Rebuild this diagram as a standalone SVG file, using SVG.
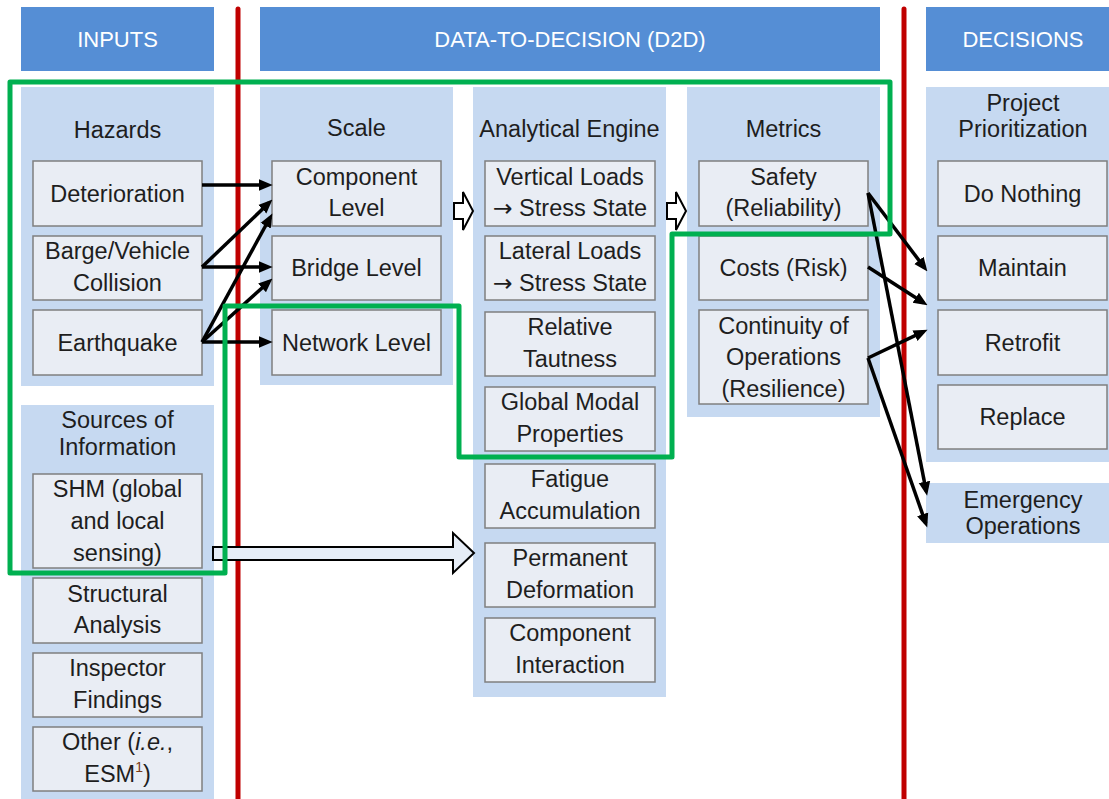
<svg xmlns="http://www.w3.org/2000/svg" width="1109" height="799" viewBox="0 0 1109 799">
  <defs>
    <style>
      .hdr { fill: #558ED5; }
      .hdr-t { font-family: "Liberation Sans", Arial, sans-serif; font-size: 22px; fill: #ffffff; text-anchor: middle; }
      .panel { fill: #C6D9F1; }
      .box { fill: #E9EDF4; stroke: #7F7F7F; stroke-width: 1.5; }
      .t { font-family: "Liberation Sans", Arial, sans-serif; font-size: 23.5px; fill: #1E1E1E; text-anchor: middle; }
      .sym { font-family: "DejaVu Sans", sans-serif; }
      .divider { stroke: #C00000; stroke-width: 5; stroke-linecap: round; }
      .link { stroke: #000000; stroke-width: 3.5; fill: none; marker-end: url(#head); }
      .block { fill: #FFFFFF; stroke: #000000; stroke-width: 2; stroke-linejoin: miter; }
      .scope { fill: none; stroke: #00B050; stroke-width: 5; stroke-linejoin: round; }
    </style>
    <marker id="head" markerUnits="userSpaceOnUse" markerWidth="14" markerHeight="14" viewBox="0 0 12 12" refX="8" refY="6" orient="auto">
      <path d="M0,1 L12,6 L0,11 Z" fill="#000000"/>
    </marker>
  </defs>

  <rect width="1109" height="799" fill="#FFFFFF"/>

  <!-- column headers -->
  <g id="header-inputs">
    <rect class="hdr" x="21" y="7" width="193" height="64"/>
    <text class="hdr-t" x="117.5" y="47">INPUTS</text>
  </g>
  <g id="header-d2d">
    <rect class="hdr" x="260" y="7" width="620" height="64"/>
    <text class="hdr-t" x="570" y="47">DATA-TO-DECISION (D2D)</text>
  </g>
  <g id="header-decisions">
    <rect class="hdr" x="926" y="7" width="183" height="64"/>
    <text class="hdr-t" x="1023" y="47">DECISIONS</text>
  </g>

  <!-- Hazards -->
  <g id="hazards">
    <rect class="panel" x="21" y="87" width="193" height="299"/>
    <text class="t" x="117.5" y="138">Hazards</text>
  </g>
  <g id="deterioration">
    <rect class="box" x="33" y="161" width="169" height="65"/>
    <text class="t" x="117.5" y="201.5">Deterioration</text>
  </g>
  <g id="collision">
    <rect class="box" x="33" y="236" width="169" height="64"/>
    <text class="t" x="117.5" y="259">Barge/Vehicle</text>
    <text class="t" x="117.5" y="290.5">Collision</text>
  </g>
  <g id="earthquake">
    <rect class="box" x="33" y="310" width="169" height="65"/>
    <text class="t" x="117.5" y="350.5">Earthquake</text>
  </g>

  <!-- Sources of Information -->
  <g id="sources">
    <rect class="panel" x="21" y="405" width="193" height="394"/>
    <text class="t" x="117.5" y="428">Sources of</text>
    <text class="t" x="117.5" y="455">Information</text>
  </g>
  <g id="shm">
    <rect class="box" x="33" y="474" width="169" height="94"/>
    <text class="t" x="117.5" y="497">SHM (global</text>
    <text class="t" x="117.5" y="529">and local</text>
    <text class="t" x="117.5" y="561">sensing)</text>
  </g>
  <g id="structural-analysis">
    <rect class="box" x="33" y="578" width="169" height="65"/>
    <text class="t" x="117.5" y="601.5">Structural</text>
    <text class="t" x="117.5" y="633">Analysis</text>
  </g>
  <g id="inspector-findings">
    <rect class="box" x="33" y="653" width="169" height="64"/>
    <text class="t" x="117.5" y="676">Inspector</text>
    <text class="t" x="117.5" y="707.5">Findings</text>
  </g>
  <g id="other">
    <rect class="box" x="33" y="727" width="169" height="64"/>
    <text class="t" x="117.5" y="750">Other (<tspan font-style="italic">i.e.</tspan>,</text>
    <text class="t" x="117.5" y="781.5">ESM<tspan font-size="14" dy="-10" fill="#7A3A12">1</tspan><tspan dy="10">)</tspan></text>
  </g>

  <!-- Scale -->
  <g id="scale">
    <rect class="panel" x="260" y="87" width="193" height="298"/>
    <text class="t" x="356.5" y="136">Scale</text>
  </g>
  <g id="component-level">
    <rect class="box" x="272" y="161" width="169" height="65"/>
    <text class="t" x="356.5" y="185">Component</text>
    <text class="t" x="356.5" y="216">Level</text>
  </g>
  <g id="bridge-level">
    <rect class="box" x="272" y="236" width="169" height="64"/>
    <text class="t" x="356.5" y="276">Bridge Level</text>
  </g>
  <g id="network-level">
    <rect class="box" x="272" y="310" width="169" height="65"/>
    <text class="t" x="356.5" y="350.5">Network Level</text>
  </g>

  <!-- Analytical Engine -->
  <g id="analytical-engine">
    <rect class="panel" x="473" y="87" width="193" height="610"/>
    <text class="t" x="569.5" y="137">Analytical Engine</text>
  </g>
  <g id="vertical-loads">
    <rect class="box" x="485" y="161" width="170" height="65"/>
    <text class="t" x="570" y="184.5">Vertical Loads</text>
    <text class="t" x="570" y="216"><tspan class="sym">→</tspan> Stress State</text>
  </g>
  <g id="lateral-loads">
    <rect class="box" x="485" y="236" width="170" height="64"/>
    <text class="t" x="570" y="259">Lateral Loads</text>
    <text class="t" x="570" y="290.5"><tspan class="sym">→</tspan> Stress State</text>
  </g>
  <g id="relative-tautness">
    <rect class="box" x="485" y="312" width="170" height="64"/>
    <text class="t" x="570" y="335">Relative</text>
    <text class="t" x="570" y="366.5">Tautness</text>
  </g>
  <g id="global-modal">
    <rect class="box" x="485" y="387" width="170" height="64"/>
    <text class="t" x="570" y="410">Global Modal</text>
    <text class="t" x="570" y="441.5">Properties</text>
  </g>
  <g id="fatigue">
    <rect class="box" x="485" y="464" width="170" height="64"/>
    <text class="t" x="570" y="487">Fatigue</text>
    <text class="t" x="570" y="518.5">Accumulation</text>
  </g>
  <g id="permanent-deformation">
    <rect class="box" x="485" y="543" width="170" height="64"/>
    <text class="t" x="570" y="566">Permanent</text>
    <text class="t" x="570" y="597.5">Deformation</text>
  </g>
  <g id="component-interaction">
    <rect class="box" x="485" y="618" width="170" height="64"/>
    <text class="t" x="570" y="641">Component</text>
    <text class="t" x="570" y="672.5">Interaction</text>
  </g>

  <!-- Metrics -->
  <g id="metrics">
    <rect class="panel" x="687" y="87" width="193" height="330"/>
    <text class="t" x="783.5" y="137">Metrics</text>
  </g>
  <g id="safety">
    <rect class="box" x="699" y="161" width="169" height="65"/>
    <text class="t" x="783.5" y="184.5">Safety</text>
    <text class="t" x="783.5" y="216">(Reliability)</text>
  </g>
  <g id="costs">
    <rect class="box" x="699" y="236" width="169" height="64"/>
    <text class="t" x="783.5" y="276">Costs (Risk)</text>
  </g>
  <g id="continuity">
    <rect class="box" x="699" y="310" width="169" height="94"/>
    <text class="t" x="783.5" y="334">Continuity of</text>
    <text class="t" x="783.5" y="365">Operations</text>
    <text class="t" x="783.5" y="397">(Resilience)</text>
  </g>

  <!-- Project Prioritization -->
  <g id="project-prioritization">
    <rect class="panel" x="926" y="87" width="183" height="375"/>
    <text class="t" x="1023" y="111">Project</text>
    <text class="t" x="1023" y="137">Prioritization</text>
  </g>
  <g id="do-nothing">
    <rect class="box" x="938" y="161" width="169" height="65"/>
    <text class="t" x="1022.5" y="201.5">Do Nothing</text>
  </g>
  <g id="maintain">
    <rect class="box" x="938" y="236" width="169" height="64"/>
    <text class="t" x="1022.5" y="276">Maintain</text>
  </g>
  <g id="retrofit">
    <rect class="box" x="938" y="310" width="169" height="65"/>
    <text class="t" x="1022.5" y="350.5">Retrofit</text>
  </g>
  <g id="replace">
    <rect class="box" x="938" y="385" width="169" height="64"/>
    <text class="t" x="1022.5" y="425">Replace</text>
  </g>
  <g id="emergency-operations">
    <rect class="panel" x="926" y="483" width="183" height="60"/>
    <text class="t" x="1023" y="508">Emergency</text>
    <text class="t" x="1023" y="534">Operations</text>
  </g>

  <!-- column dividers -->
  <g id="dividers">
    <line class="divider" x1="238" y1="9" x2="238" y2="805"/>
    <line class="divider" x1="904" y1="9" x2="904" y2="805"/>
  </g>

  <!-- connectors -->
  <g id="connectors">
    <line class="link" x1="202" y1="185" x2="268" y2="185"/>
    <line class="link" x1="202" y1="267" x2="269.1" y2="202.8"/>
    <line class="link" x1="202" y1="267" x2="268" y2="267"/>
    <line class="link" x1="202" y1="342" x2="270.1" y2="217.5"/>
    <line class="link" x1="202" y1="342" x2="269" y2="281.7"/>
    <line class="link" x1="202" y1="342" x2="268" y2="342"/>

    <polygon class="block" points="454,203 463,203 463,192 473,211 463,230 463,219 454,219"/>
    <polygon class="block" points="667,203 676,203 676,192 686,211 676,230 676,219 667,219"/>
    <polygon class="block" style="fill:#E6EDF7" points="213,547 453,547 453,533 474,553 453,573 453,560 213,560"/>

    <line class="link" x1="868" y1="193" x2="924.6" y2="267.8"/>
    <line class="link" x1="868" y1="193" x2="926.2" y2="491.1"/>
    <line class="link" x1="868" y1="267" x2="923.6" y2="302.8"/>
    <line class="link" x1="868" y1="358" x2="923.4" y2="331.7"/>
    <line class="link" x1="868" y1="358" x2="925.7" y2="523.2"/>
  </g>

  <!-- scope outline -->
  <g id="scope">
    <path class="scope" d="M10,82 H890 V234 H672 V457 H459 V306 H225 V573 H10 Z"/>
  </g>
</svg>
